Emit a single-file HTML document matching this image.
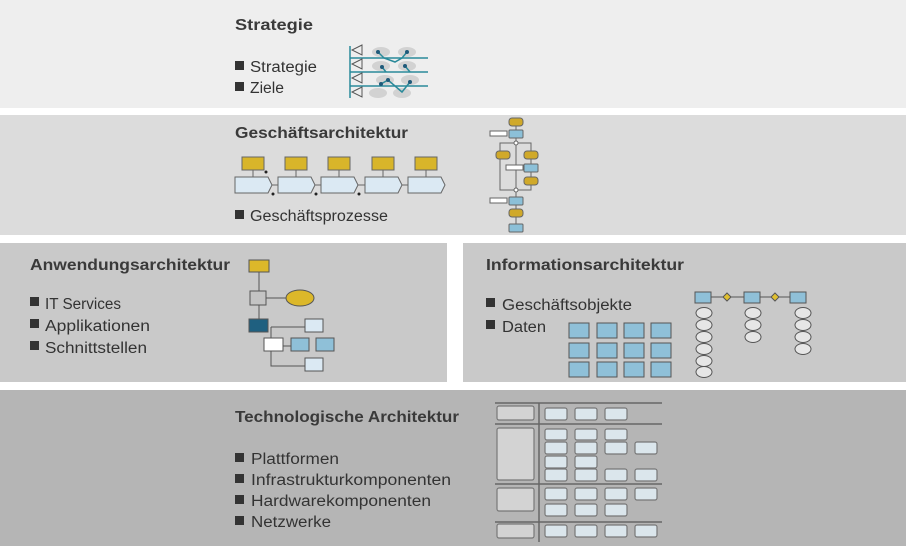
<!DOCTYPE html>
<html><head><meta charset="utf-8"><style>
html,body{margin:0;padding:0;background:#fff}
svg{display:block}
text{font-family:"Liberation Sans",sans-serif;fill:#333}
.t{font-size:16px;font-weight:bold;fill:#3a3a3a}
.i{font-size:15.5px}
</style></head><body>
<svg width="906" height="546" viewBox="0 0 906 546" xmlns="http://www.w3.org/2000/svg">
<rect width="906" height="546" fill="#fff"/>
<rect x="0" y="0" width="906" height="108" fill="#eeeeee"/>
<rect x="0" y="115" width="906" height="120" fill="#dcdcdc"/>
<rect x="0" y="243" width="447" height="139" fill="#c9c9c9"/>
<rect x="463" y="243" width="443" height="139" fill="#c9c9c9"/>
<rect x="0" y="390" width="906" height="156" fill="#b5b5b5"/>

<text class="t" x="235" y="30" textLength="78" lengthAdjust="spacingAndGlyphs">Strategie</text>
<rect x="235" y="61" width="9" height="9" fill="#333"/><text class="i" x="250" y="72" textLength="67" lengthAdjust="spacingAndGlyphs">Strategie</text>
<rect x="235" y="82" width="9" height="9" fill="#333"/><text class="i" x="250" y="93" textLength="34" lengthAdjust="spacingAndGlyphs">Ziele</text>

<text class="t" x="235" y="138" textLength="173" lengthAdjust="spacingAndGlyphs">Geschäftsarchitektur</text>
<rect x="235" y="210" width="9" height="9" fill="#333"/><text class="i" x="250" y="221" textLength="138" lengthAdjust="spacingAndGlyphs">Geschäftsprozesse</text>

<text class="t" x="30" y="270" textLength="200" lengthAdjust="spacingAndGlyphs">Anwendungsarchitektur</text>
<rect x="30" y="297" width="9" height="9" fill="#333"/><text class="i" x="45" y="309" textLength="76" lengthAdjust="spacingAndGlyphs">IT Services</text>
<rect x="30" y="319" width="9" height="9" fill="#333"/><text class="i" x="45" y="331" textLength="105" lengthAdjust="spacingAndGlyphs">Applikationen</text>
<rect x="30" y="341" width="9" height="9" fill="#333"/><text class="i" x="45" y="353" textLength="102" lengthAdjust="spacingAndGlyphs">Schnittstellen</text>

<text class="t" x="486" y="270" textLength="198" lengthAdjust="spacingAndGlyphs">Informationsarchitektur</text>
<rect x="486" y="298" width="9" height="9" fill="#333"/><text class="i" x="502" y="310" textLength="130" lengthAdjust="spacingAndGlyphs">Geschäftsobjekte</text>
<rect x="486" y="320" width="9" height="9" fill="#333"/><text class="i" x="502" y="332" textLength="44" lengthAdjust="spacingAndGlyphs">Daten</text>

<text class="t" x="235" y="422" textLength="224" lengthAdjust="spacingAndGlyphs">Technologische Architektur</text>
<rect x="235" y="453" width="9" height="9" fill="#333"/><text class="i" x="251" y="464" textLength="88" lengthAdjust="spacingAndGlyphs">Plattformen</text>
<rect x="235" y="474" width="9" height="9" fill="#333"/><text class="i" x="251" y="485" textLength="200" lengthAdjust="spacingAndGlyphs">Infrastrukturkomponenten</text>
<rect x="235" y="495" width="9" height="9" fill="#333"/><text class="i" x="251" y="506" textLength="180" lengthAdjust="spacingAndGlyphs">Hardwarekomponenten</text>
<rect x="235" y="516" width="9" height="9" fill="#333"/><text class="i" x="251" y="527" textLength="80" lengthAdjust="spacingAndGlyphs">Netzwerke</text>

<g stroke="#2a8a9a" stroke-width="1.5" fill="none">
<g fill="#d2d2d2" stroke="none">
<ellipse cx="381" cy="52" rx="9" ry="5"/><ellipse cx="407" cy="52" rx="9" ry="5"/>
<ellipse cx="381" cy="66" rx="9" ry="5"/><ellipse cx="407" cy="66" rx="9" ry="5"/>
<ellipse cx="385" cy="80" rx="9" ry="5"/><ellipse cx="410" cy="80" rx="9" ry="5"/>
<ellipse cx="378" cy="93" rx="9" ry="5"/><ellipse cx="402" cy="93" rx="9" ry="5"/>
</g>
<line x1="350" y1="58" x2="428" y2="58"/><line x1="350" y1="72" x2="428" y2="72"/><line x1="350" y1="86" x2="428" y2="86"/>
<line x1="350" y1="46" x2="350" y2="98"/>
<path d="M378 52 L384 58 L395 62 L402 58 L407 52"/>
<path d="M382 67 L386 72 M405 66 L410 72"/>
<path d="M381 84 L388 80 L395 86 L402 92 L410 82"/>
</g>
<g stroke="#555" fill="none" stroke-width="1">
<path d="M362 45 L352 50 L362 55Z"/><path d="M362 59 L352 64 L362 69Z"/><path d="M362 73 L352 78 L362 83Z"/><path d="M362 87 L352 92 L362 97Z"/>
</g>
<g fill="#1f5a7a"><circle cx="378" cy="52" r="2"/><circle cx="407" cy="52" r="2"/><circle cx="382" cy="67" r="2"/><circle cx="405" cy="66" r="2"/><circle cx="381" cy="84" r="2"/><circle cx="388" cy="80" r="2"/><circle cx="410" cy="82" r="2"/></g>

<g stroke="#666" stroke-width="1">
<g fill="#d8b52a">
<rect x="242" y="157" width="22" height="13"/><rect x="285" y="157" width="22" height="13"/><rect x="328" y="157" width="22" height="13"/><rect x="372" y="157" width="22" height="13"/><rect x="415" y="157" width="22" height="13"/>
</g>
<line x1="253" y1="170" x2="253" y2="177"/><line x1="296" y1="170" x2="296" y2="177"/><line x1="339" y1="170" x2="339" y2="177"/><line x1="383" y1="170" x2="383" y2="177"/><line x1="426" y1="170" x2="426" y2="177"/>
<g fill="#dbe9f3">
<path d="M235 177 H268 L272 185 L268 193 H235Z"/><path d="M278 177 H311 L315 185 L311 193 H278Z"/><path d="M321 177 H354 L358 185 L354 193 H321Z"/><path d="M365 177 H398 L402 185 L398 193 H365Z"/><path d="M408 177 H441 L445 185 L441 193 H408Z"/>
</g>
<line x1="272" y1="185" x2="278" y2="185"/><line x1="315" y1="185" x2="321" y2="185"/><line x1="358" y1="185" x2="365" y2="185"/><line x1="402" y1="185" x2="408" y2="185"/>
</g>
<g fill="#222"><circle cx="266" cy="172" r="1.5"/><circle cx="273" cy="194" r="1.5"/><circle cx="316" cy="194" r="1.5"/><circle cx="359" cy="194" r="1.5"/></g>

<g stroke="#666" stroke-width="1">
<line x1="516" y1="122" x2="516" y2="232"/>
<path d="M516 143 H500 V190 H516 M516 143 H531 V190 H516" fill="none"/>
<g fill="#d0a92a"><rect x="509" y="118" width="14" height="8" rx="3"/><rect x="496" y="151" width="14" height="8" rx="3"/><rect x="524" y="151" width="14" height="8" rx="3"/><rect x="524" y="177" width="14" height="8" rx="3"/><rect x="509" y="209" width="14" height="8" rx="3"/></g>
<g fill="#8cc0d8"><rect x="509" y="130" width="14" height="8" rx="1"/><rect x="524" y="164" width="14" height="8" rx="1"/><rect x="509" y="197" width="14" height="8" rx="1"/><rect x="509" y="224" width="14" height="8" rx="1"/></g>
<g fill="#fff"><rect x="490" y="131" width="17" height="5"/><rect x="506" y="165" width="17" height="5"/><rect x="490" y="198" width="17" height="5"/><circle cx="516" cy="143" r="2"/><circle cx="516" cy="190" r="2"/></g>
</g>

<g stroke="#555" stroke-width="1">
<line x1="259" y1="270" x2="259" y2="325"/><line x1="266" y1="298" x2="288" y2="298"/>
<path d="M271 327 V346 H305 M271 327 V366 H305 M271 327 H307" fill="none"/>
<rect x="249" y="260" width="20" height="12" fill="#dcb82a"/>
<rect x="250" y="291" width="16" height="14" fill="#c4c4c4"/>
<ellipse cx="300" cy="298" rx="14" ry="8" fill="#dcb82a"/>
<rect x="249" y="319" width="19" height="13" fill="#1f6080"/>
<rect x="305" y="319" width="18" height="13" fill="#dbe9f3"/>
<rect x="264" y="338" width="19" height="13" fill="#ffffff"/>
<rect x="291" y="338" width="18" height="13" fill="#8fc0d8"/>
<rect x="316" y="338" width="18" height="13" fill="#8fc0d8"/>
<rect x="305" y="358" width="18" height="13" fill="#dbe9f3"/>
</g>

<g stroke="#555" stroke-width="1">
<line x1="703" y1="297" x2="797" y2="297"/>
<rect x="695" y="292" width="16" height="11" fill="#8fc0d8"/><rect x="744" y="292" width="16" height="11" fill="#8fc0d8"/><rect x="790" y="292" width="16" height="11" fill="#8fc0d8"/>
<path d="M727 293 L731 297 L727 301 L723 297Z M775 293 L779 297 L775 301 L771 297Z" fill="#e0c030"/>
<g fill="#e6e6e6">
<ellipse cx="704" cy="313" rx="8" ry="5.5"/><ellipse cx="704" cy="325" rx="8" ry="5.5"/><ellipse cx="704" cy="337" rx="8" ry="5.5"/><ellipse cx="704" cy="349" rx="8" ry="5.5"/><ellipse cx="704" cy="361" rx="8" ry="5.5"/><ellipse cx="704" cy="372" rx="8" ry="5.5"/>
<ellipse cx="753" cy="313" rx="8" ry="5.5"/><ellipse cx="753" cy="325" rx="8" ry="5.5"/><ellipse cx="753" cy="337" rx="8" ry="5.5"/>
<ellipse cx="803" cy="313" rx="8" ry="5.5"/><ellipse cx="803" cy="325" rx="8" ry="5.5"/><ellipse cx="803" cy="337" rx="8" ry="5.5"/><ellipse cx="803" cy="349" rx="8" ry="5.5"/>
</g>
<g fill="#8fc0d8">
<rect x="569" y="323" width="20" height="15"/><rect x="597" y="323" width="20" height="15"/><rect x="624" y="323" width="20" height="15"/><rect x="651" y="323" width="20" height="15"/>
<rect x="569" y="343" width="20" height="15"/><rect x="597" y="343" width="20" height="15"/><rect x="624" y="343" width="20" height="15"/><rect x="651" y="343" width="20" height="15"/>
<rect x="569" y="362" width="20" height="15"/><rect x="597" y="362" width="20" height="15"/><rect x="624" y="362" width="20" height="15"/><rect x="651" y="362" width="20" height="15"/>
</g>
</g>

<g stroke="#666" stroke-width="1.5" fill="none">
<line x1="495" y1="403" x2="662" y2="403"/><line x1="495" y1="424" x2="662" y2="424"/>
<line x1="495" y1="484" x2="662" y2="484"/><line x1="495" y1="522" x2="662" y2="522"/>
<line x1="539" y1="403" x2="539" y2="542"/>
</g>
<g stroke="#777" stroke-width="1.2" fill="#d3d3d3">
<rect x="497" y="406" width="37" height="14" rx="2"/>
<rect x="497" y="428" width="37" height="52" rx="2"/>
<rect x="497" y="488" width="37" height="23" rx="2"/>
<rect x="497" y="524" width="37" height="14" rx="2"/>
</g>
<g stroke="#777" stroke-width="1.2" fill="#dbe6ec">
<rect x="545" y="408" width="22" height="12" rx="2"/><rect x="575" y="408" width="22" height="12" rx="2"/><rect x="605" y="408" width="22" height="12" rx="2"/>
<rect x="545" y="429" width="22" height="11" rx="2"/><rect x="575" y="429" width="22" height="11" rx="2"/><rect x="605" y="429" width="22" height="11" rx="2"/>
<rect x="545" y="442" width="22" height="12" rx="2"/><rect x="575" y="442" width="22" height="12" rx="2"/><rect x="605" y="442" width="22" height="12" rx="2"/><rect x="635" y="442" width="22" height="12" rx="2"/>
<rect x="545" y="456" width="22" height="12" rx="2"/><rect x="575" y="456" width="22" height="12" rx="2"/>
<rect x="545" y="469" width="22" height="12" rx="2"/><rect x="575" y="469" width="22" height="12" rx="2"/><rect x="605" y="469" width="22" height="12" rx="2"/><rect x="635" y="469" width="22" height="12" rx="2"/>
<rect x="545" y="488" width="22" height="12" rx="2"/><rect x="575" y="488" width="22" height="12" rx="2"/><rect x="605" y="488" width="22" height="12" rx="2"/><rect x="635" y="488" width="22" height="12" rx="2"/>
<rect x="545" y="504" width="22" height="12" rx="2"/><rect x="575" y="504" width="22" height="12" rx="2"/><rect x="605" y="504" width="22" height="12" rx="2"/>
<rect x="545" y="525" width="22" height="12" rx="2"/><rect x="575" y="525" width="22" height="12" rx="2"/><rect x="605" y="525" width="22" height="12" rx="2"/><rect x="635" y="525" width="22" height="12" rx="2"/>
</g>
</svg>
</body></html>
